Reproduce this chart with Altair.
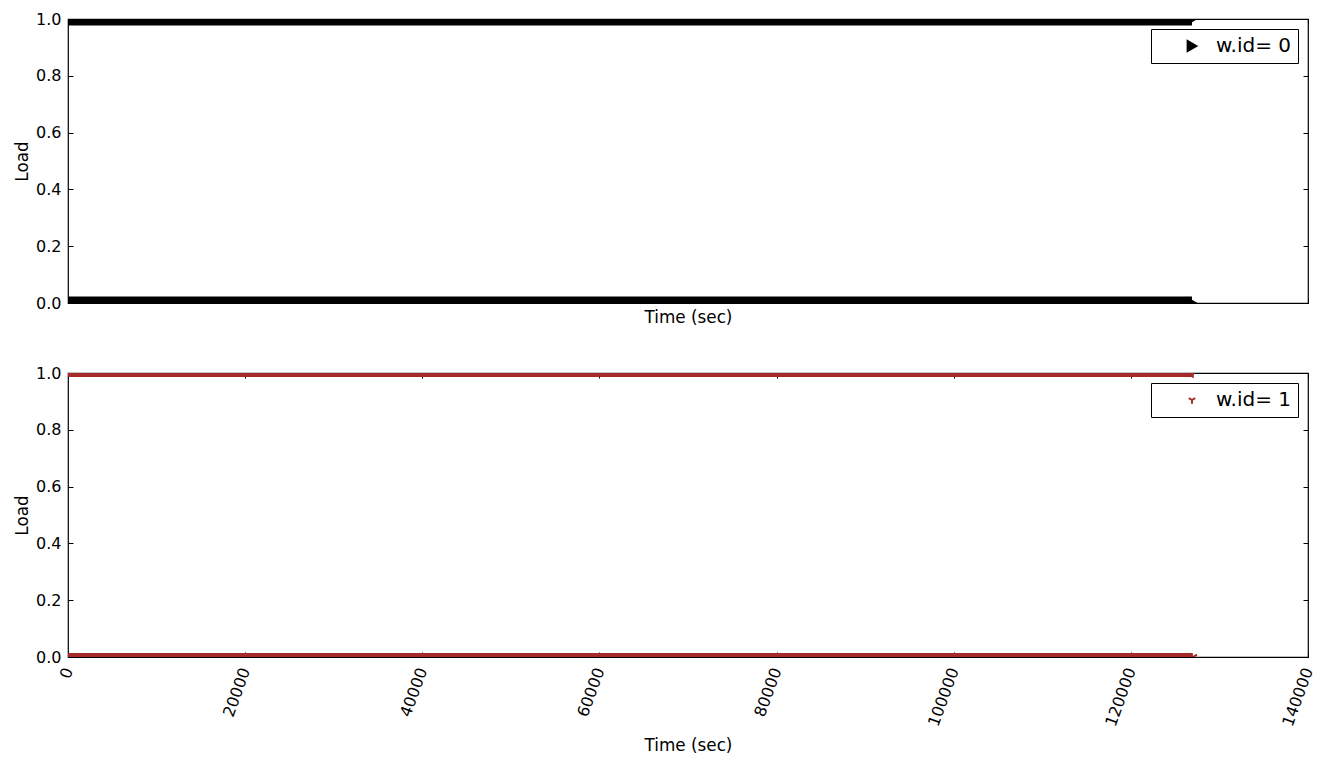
import altair as alt
import pandas as pd

# ---- data ----
workers = ["w.id= 0", "w.id= 1"]
colors = ["#000000", "#a52a2a"]
seg_start = [0, 0]            # first sample time (sec)
seg_end = [126900, 127000]    # last sample time (sec)
load_levels = [0.0, 1.0]      # worker load alternates between these values
x_ticks = [0, 20000, 40000, 60000, 80000, 100000, 120000, 140000]
y_ticks = [0.0, 0.2, 0.4, 0.6, 0.8, 1.0]

FONT = "DejaVu Sans"
W, H = 1240, 284

xscale = alt.Scale(domain=[0, 140000], nice=False, zero=False)
yscale = alt.Scale(domain=[0, 1], nice=False)

tri_down = "M0,0L0,1M0,0L-0.87,-0.5M0,0L0.87,-0.5"
shapes = ["triangle-right", tri_down]
band_width = [13, 8]
pt_size = [170, 90]


def inner_axis(orient, labels, title=None, values=None, fmt=None, angle=0,
               label_pad=7, title_pad=4):
    kw = dict(
        orient=orient,
        values=values,
        labels=labels,
        domain=False,
        ticks=True,
        tickSize=5,
        tickColor="black",
        offset=-5,
        grid=False,
        labelFont=FONT,
        labelFontSize=16,
        labelColor="black",
        labelPadding=label_pad,
        labelFlush=False,
        labelOverlap=False,
        titleFont=FONT,
        titleFontSize=16.8,
        titleFontWeight="normal",
        titleColor="black",
        titlePadding=title_pad,
    )
    kw["title"] = title if title is not None else None
    if fmt is not None:
        kw["format"] = fmt
    if angle:
        kw["labelAngle"] = angle
        kw["labelAlign"] = "right"
        kw["labelBaseline"] = "middle"
    return alt.Axis(**kw)


def panel(i, show_x_labels):
    df = pd.DataFrame({
        "start": [seg_start[i]] * len(load_levels),
        "end": [seg_end[i]] * len(load_levels),
        "load": load_levels,
        "worker": [workers[i]] * len(load_levels),
    })
    base = alt.Chart(df)
    if show_x_labels:
        xaxis = inner_axis("bottom", True, "Time (sec)", x_ticks, "d", 290,
                           label_pad=11, title_pad=9)
    else:
        xaxis = inner_axis("bottom", False, "Time (sec)", x_ticks, title_pad=6)
    band = base.mark_rule(strokeWidth=band_width[i], strokeCap="butt", clip=True,
                          color=colors[i]).encode(
        x=alt.X("start:Q", scale=xscale, axis=xaxis),
        x2="end:Q",
        y=alt.Y("load:Q", scale=yscale,
                axis=inner_axis("left", True, "Load", y_ticks, ".1f")),
    )
    frame = base.mark_rule(opacity=0).encode(
        x=alt.X("start:Q", scale=xscale,
                axis=inner_axis("top", False, None, x_ticks)),
        y=alt.Y("load:Q", scale=yscale,
                axis=inner_axis("right", False, None, y_ticks)),
    )
    filled = i == 0
    ends = base.mark_point(shape=shapes[i], size=pt_size[i], filled=filled, clip=True,
                           strokeWidth=2, opacity=1).encode(
        x=alt.X("end:Q", scale=xscale, axis=None),
        y=alt.Y("load:Q", scale=yscale, axis=None),
        color=alt.Color("worker:N", scale=alt.Scale(domain=[workers[i]], range=[colors[i]]),
                        legend=alt.Legend(
                            title=None, orient="top-right", offset=10,
                            fillColor="white", strokeColor="black",
                            cornerRadius=0, padding=7,
                            labelFont=FONT, labelFontSize=20, labelColor="black",
                            symbolType=shapes[i], symbolSize=pt_size[i] * 0.6,
                            symbolFillColor=colors[i] if filled else "transparent",
                            symbolStrokeColor=colors[i], symbolStrokeWidth=2,
                            symbolOffset=24, labelOffset=14,
                        )),
    )
    return alt.layer(band, frame, ends).resolve_axis(
        x="independent", y="independent"
    ).properties(width=W, height=H)


chart = alt.vconcat(panel(0, False), panel(1, True), spacing=37).resolve_scale(
    color="independent"
).configure(
    background="white", padding={"left": 13, "top": 10, "right": 5, "bottom": 5}
).configure_view(stroke="black", strokeWidth=1.2)

chart.save("out.html", embed_options={"renderer": "svg", "actions": False})
